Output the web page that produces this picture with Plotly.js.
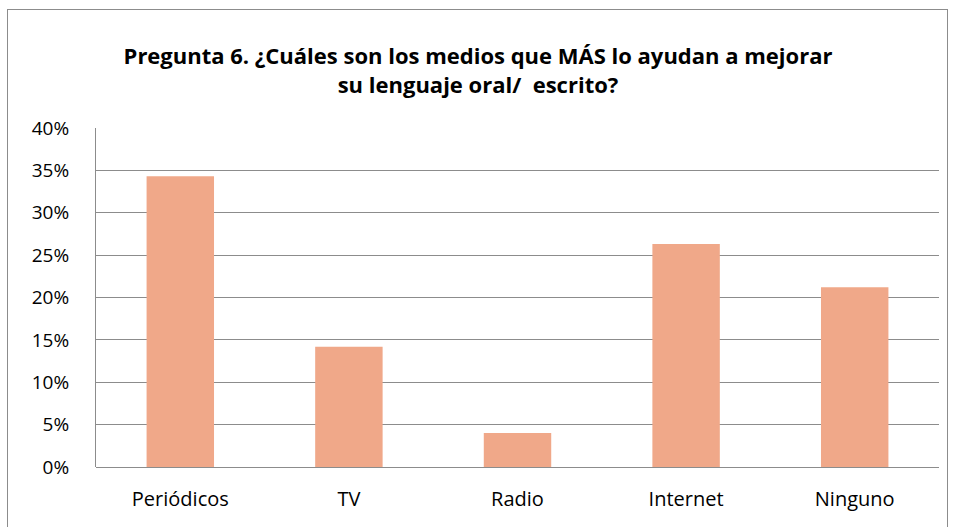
<!DOCTYPE html>
<html>
<head>
<meta charset="utf-8">
<script src="https://cdn.plot.ly/plotly-3.0.1.min.js"></script>
<style>
html,body{margin:0;padding:0;background:#fff;}
#frame{position:absolute;left:7px;top:9px;width:941px;height:540px;border:1px solid #8c8c8c;box-sizing:border-box;}
#chart{position:absolute;left:0;top:0;width:956px;height:527px;}
</style>
</head>
<body>
<div id="frame"></div>
<div id="chart"></div>
<script>
const categories = ["Periódicos", "TV", "Radio", "Internet", "Ninguno"];
const values = [0.343, 0.142, 0.040, 0.263, 0.212];
const yTickValues = [0, 0.05, 0.10, 0.15, 0.20, 0.25, 0.30, 0.35, 0.40];
const yTickLabels = ["0%", "5%", "10%", "15%", "20%", "25%", "30%", "35%", "40%"];
const titleText = "Pregunta 6. ¿Cuáles son los medios que MÁS lo ayudan a mejorar<br>su lenguaje oral/  escrito?";

const trace = {
  type: "bar",
  x: categories,
  y: values,
  marker: {color: "#F0A889"},
  hoverinfo: "x+y"
};

const layout = {
  width: 956,
  height: 527,
  margin: {l: 96, r: 17, t: 128, b: 60},
  paper_bgcolor: "rgba(0,0,0,0)",
  plot_bgcolor: "rgba(0,0,0,0)",
  bargap: 0.6,
  showlegend: false,
  title: {
    text: "<b>" + titleText + "</b>",
    font: {family: "Open Sans, sans-serif", size: 22, color: "#000"},
    x: 0.5, xanchor: "center",
    xref: "container",
    y: 1 - 64/527, yanchor: "middle"
  },
  xaxis: {
    showgrid: false,
    showline: false,
    ticks: "",
    ticklabelstandoff: 18,
    tickfont: {family: "Open Sans, sans-serif", size: 20, color: "#000"},
    fixedrange: true
  },
  yaxis: {
    range: [0, 0.40],
    tickvals: yTickValues,
    ticktext: yTickLabels,
    showgrid: true,
    gridcolor: "#8c8c8c",
    gridwidth: 1,
    showline: true,
    linecolor: "#8c8c8c",
    linewidth: 1,
    zeroline: true,
    zerolinecolor: "#8c8c8c",
    ticks: "",
    ticklabelstandoff: 22,
    tickfont: {family: "Open Sans, sans-serif", size: 19, color: "#000"},
    fixedrange: true
  }
};

Plotly.newPlot("chart", [trace], layout, {displayModeBar: false, staticPlot: true});
</script>
</body>
</html>
